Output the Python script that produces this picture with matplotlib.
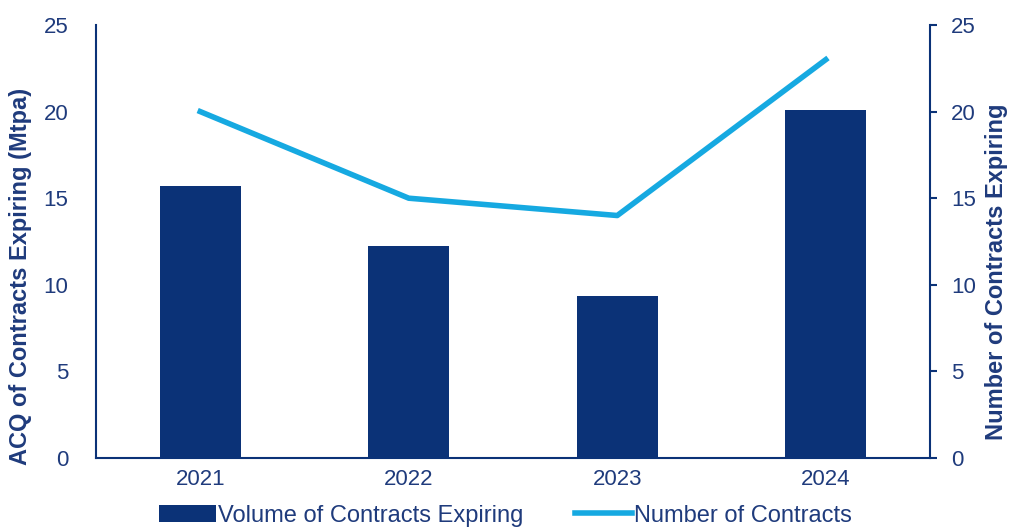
import matplotlib.pyplot as plt
import numpy as np

plt.rcParams['font.family'] = ['Liberation Sans', 'DejaVu Sans']

years = ['2021', '2022', '2023', '2024']
volume = [15.7, 12.25, 9.35, 20.1]      # Mtpa
contracts = [20, 15, 14, 23]           # count

navy = '#0b3277'
light = '#16a9e1'
txt = '#1f3b7c'

fig = plt.figure(figsize=(10.11, 5.31), dpi=100)
ax = fig.add_axes([96/1011, 73/531, 834/1011, 433/531])
x = np.arange(len(years))

ax.bar(x, volume, width=0.39, color=navy, label='Volume of Contracts Expiring')
ax.set_xlim(-0.5, 3.5)
ax.set_ylim(0, 25)
ax.set_yticks(range(0, 26, 5))
ax.set_xticks(x)
ax.set_xticklabels(years)
ax.tick_params(axis='y', length=0, pad=20, labelsize=16, labelcolor=txt)
ax.tick_params(axis='x', length=0, pad=8, labelsize=16, labelcolor=txt)
ax.set_ylabel('ACQ of Contracts Expiring (Mtpa)', fontsize=17, fontweight='bold',
              color=txt)
ax.yaxis.set_label_coords(-0.077, 0.42)
for s in ['top', 'right']:
    ax.spines[s].set_visible(False)
for s in ['left', 'bottom']:
    ax.spines[s].set_color(navy)
    ax.spines[s].set_linewidth(1.5)

ax2 = ax.twinx()
ax2.plot(x, contracts, color=light, linewidth=4, label='Number of Contracts')
ax2.set_ylim(0, 25)
ax2.set_yticks(range(0, 26, 5))
ax2.tick_params(axis='y', length=5, width=1.5, color=navy, pad=10,
                labelsize=16, labelcolor=txt)
ax2.set_ylabel('Number of Contracts Expiring', fontsize=17, fontweight='bold',
               color=txt)
ax2.yaxis.set_label_coords(1.066, 0.43)
for s in ['top', 'left', 'bottom']:
    ax2.spines[s].set_visible(False)
ax2.spines['right'].set_color(navy)
ax2.spines['right'].set_linewidth(1.5)

h1, l1 = ax.get_legend_handles_labels()
h2, l2 = ax2.get_legend_handles_labels()
leg = fig.legend(h1 + h2, l1 + l2, loc='lower center', ncol=2, frameon=False,
                 bbox_to_anchor=(0.5, -0.032), fontsize=17, handlelength=2.4,
                 handletextpad=0.1, columnspacing=2.2)
for t in leg.get_texts():
    t.set_color(txt)

fig.savefig('out.png', dpi=100)
